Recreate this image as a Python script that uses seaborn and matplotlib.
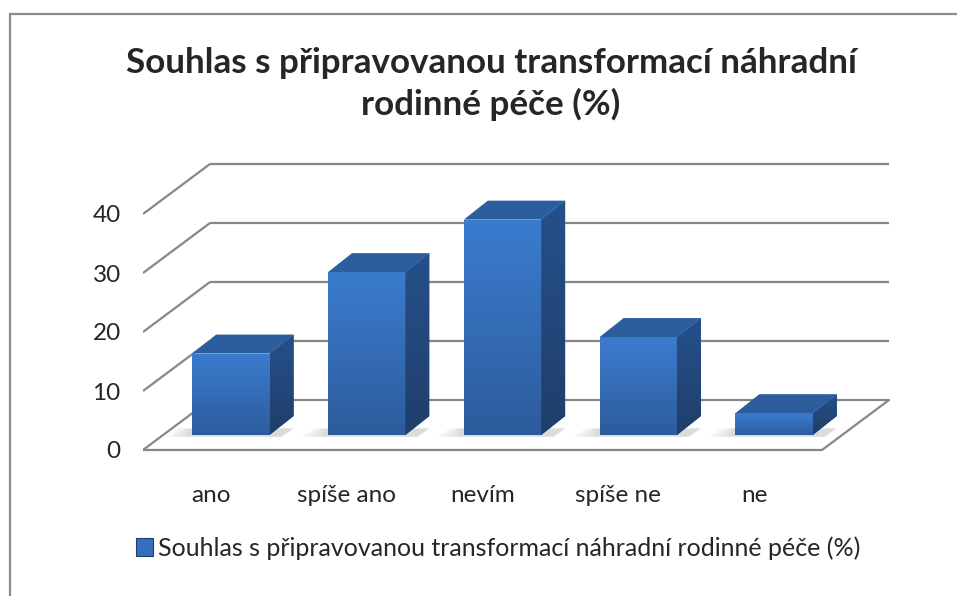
import numpy as np
import pandas as pd
import matplotlib
matplotlib.use("Agg")
import matplotlib.pyplot as plt
import seaborn as sns
from matplotlib.patches import Polygon, Rectangle, Patch
from matplotlib.colors import LinearSegmentedColormap

categories = ["ano", "spíše ano", "nevím", "spíše ne", "ne"]
values = [13.8, 27.6, 36.5, 16.6, 3.7]
y_ticks = [0, 10, 20, 30, 40]
series_name = "Souhlas s připravovanou transformací náhradní rodinné péče (%)"
title_text = "Souhlas s připravovanou transformací náhradní\nrodinné péče (%)"

sns.set_style("white")
plt.rcParams["font.family"] = ["Lato", "DejaVu Sans"]

W, H = 957, 596
fig = plt.figure(figsize=(W / 100, H / 100), dpi=100)

# pixel geometry of the front plane
x0_px, x_per_cat = 143.0, 135.8
y0_px, y_per_unit = 450.0, 5.9
xlim = (-0.5, 5.0)
ylim = (-1.0, 49.0)
left = x0_px + (xlim[0] + 0.5) * x_per_cat
right = x0_px + (xlim[1] + 0.5) * x_per_cat
top = y0_px - ylim[1] * y_per_unit
bottom = y0_px - ylim[0] * y_per_unit
ax = fig.add_axes([left / W, 1 - bottom / H, (right - left) / W, (bottom - top) / H])

# depth offsets (data units)
DX, DY = 67 / x_per_cat, 50 / y_per_unit      # floor depth
BX, BY = 20 / x_per_cat, 15 / y_per_unit      # bar front offset
dX, dY = 24 / x_per_cat, 19 / y_per_unit      # bar depth

df = pd.DataFrame({"kategorie": categories, "hodnota": values})
sns.barplot(data=df, x="kategorie", y="hodnota", color="#3874c2", saturation=1,
            width=0.57, ax=ax, zorder=3, edgecolor="none")

grid_c = "#878787"
lw = 1.6
n = len(categories)
for t in y_ticks:
    ax.plot([-0.5, -0.5 + DX], [t, t + DY], color=grid_c, lw=lw, zorder=1,
            solid_capstyle="butt")
    ax.plot([-0.5 + DX, n - 0.5 + DX], [t + DY, t + DY], color=grid_c,
            lw=lw, zorder=1, solid_capstyle="butt")
# floor front and right edges
ax.plot([-0.5, n - 0.5, n - 0.5 + DX], [0, 0, DY], color=grid_c, lw=lw, zorder=1)

front_cmap = LinearSegmentedColormap.from_list("f", ["#2d5c9c", "#3b7cce"])
side_cmap = LinearSegmentedColormap.from_list("s", ["#1f3f6b", "#26508a"])
grad = np.linspace(0, 1, 100).reshape(-1, 1)

bars = list(ax.patches)
for p in bars:
    x, w, h = p.get_x() + BX, p.get_width(), p.get_height()
    y = p.get_y() + BY
    p.set_x(x)
    p.set_y(y)
    # soft shadow on the floor
    for k in range(4):
        e = 0.025 * (k + 1)
        ax.add_patch(Polygon([(x - e * 2.0, y - 0.3), (x + w + dX * 0.5, y - 0.3),
                              (x + w + dX, y + dY * 0.35), (x - e, y + dY * 0.35)],
                             closed=True, facecolor="#000000", alpha=0.035,
                             edgecolor="none", zorder=2))
    im = ax.imshow(grad, extent=[x, x + w, y, y + h], origin="lower", aspect="auto",
                   cmap=front_cmap, zorder=3.1, interpolation="bilinear")
    im.set_clip_path(p)
    side = Polygon([(x + w, y), (x + w + dX, y + dY), (x + w + dX, y + h + dY), (x + w, y + h)],
                   closed=True, facecolor="#24497d", edgecolor="none", zorder=3)
    ax.add_patch(side)
    im2 = ax.imshow(grad, extent=[x + w, x + w + dX, y, y + h + dY], origin="lower",
                    aspect="auto", cmap=side_cmap, zorder=3.1, interpolation="bilinear")
    im2.set_clip_path(side)
    topf = Polygon([(x, y + h), (x + dX, y + h + dY), (x + w + dX, y + h + dY), (x + w, y + h)],
                   closed=True, facecolor="#2c5e9e", edgecolor="none", zorder=3.2)
    ax.add_patch(topf)

ax.set_xlim(*xlim)
ax.set_ylim(*ylim)
ax.set_yticks(y_ticks)
ax.set_yticklabels([str(t) for t in y_ticks])
ax.set_xticks(range(n))
ax.set_xticklabels(categories)
ax.tick_params(axis="y", length=0, pad=16, labelsize=17.5)
ax.tick_params(axis="x", length=0, pad=21, labelsize=17.5)
ax.set_xlabel("")
ax.set_ylabel("")
for s in ax.spines.values():
    s.set_visible(False)
ax.patch.set_alpha(0)

fig.text(491 / W, 1 - 84 / H, title_text, ha="center", va="center", fontsize=25.2,
         fontweight="bold", linespacing=1.33)

handle = Patch(facecolor="#3470bd", edgecolor="#1f3f70", linewidth=0.8)
fig.legend(handles=[handle], labels=[series_name], loc="center",
           bbox_to_anchor=(498 / W, 1 - 548 / H), frameon=False, fontsize=18,
           handlelength=0.7, handleheight=0.7, handletextpad=0.2)

fig.add_artist(Rectangle((10 / W, -0.1), 2.0, 1.1 - 14 / H, transform=fig.transFigure,
                         fill=False, edgecolor="#8c8c8c", linewidth=1.6))

fig.savefig("out.png", dpi=100)
